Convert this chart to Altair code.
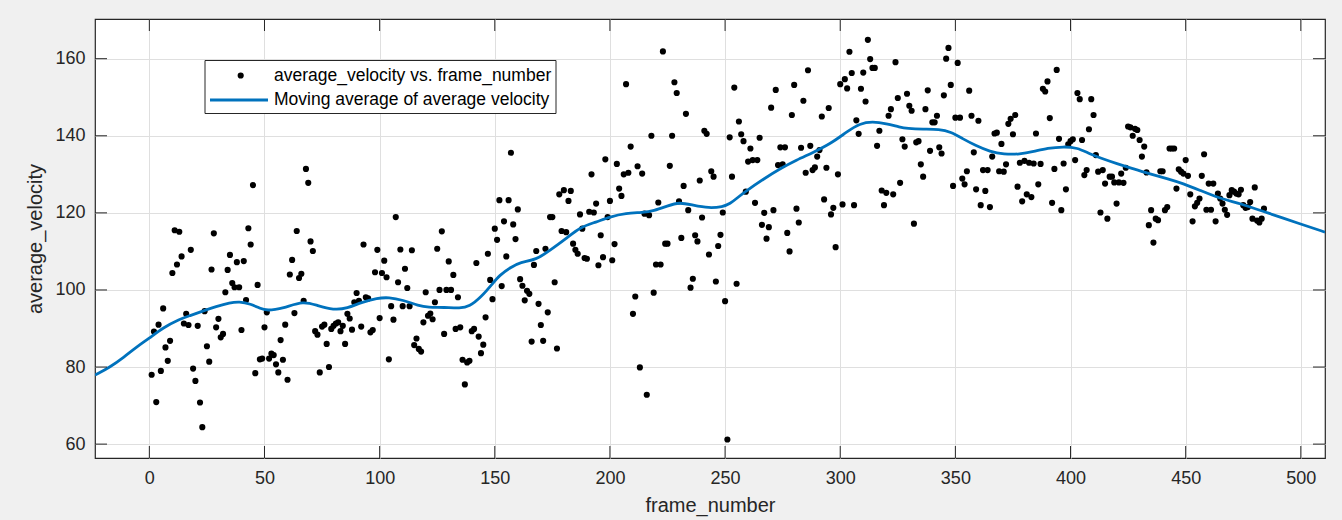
import altair as alt
import pandas as pd

# ---- scatter values (average_velocity per frame) ----
seg1 = [78.0, 89.2, 70.9, 91.0, 79.0, 95.2, 85.1, 81.6, 86.8, 104.4,
        115.5, 106.6, 115.1, 108.7, 91.3, 93.8, 90.9, 110.4, 79.6, 76.4,
        90.7, 70.8, 64.4, 94.5, 85.4, 81.4, 105.3, 114.7, 90.3, 92.5,
        87.7, 88.6, 99.4, 105.2, 109.1, 101.8, 100.7, 107.2, 100.7, 89.6,
        107.5, 97.4, 116.0, 111.8, 127.2, 78.4, 101.3, 82.0]
seg2 = [82.2, 90.3, 94.2, 82.2, 83.5, 83.1, 80.7, 78.6, 87.0, 81.9,
        91.0, 76.7, 104.0, 107.8, 94.0, 115.3, 103.1, 104.2, 97.2, 131.4,
        127.8, 112.6, 110.1, 89.3, 88.4, 78.6, 90.5, 91.0, 86.0, 80.0,
        89.9, 90.7, 91.3, 91.6, 89.3, 90.7, 86.0, 93.8, 92.6, 89.7,
        96.8, 99.2, 97.2, 90.5, 111.8, 98.1, 97.8, 89.0, 89.6, 104.6,
        110.4, 92.7, 104.4, 107.6, 103.3, 82.0, 95.8, 92.3, 118.9, 102.0,
        110.5, 95.8, 105.5, 100.5, 95.8, 110.3, 85.7, 87.4]
seg3 = [84.7, 84.0, 91.6, 99.4, 93.3, 93.9, 92.4, 96.8, 110.7, 100.0,
        115.2, 88.6, 100.0, 107.4, 100.0, 103.9, 89.9, 98.1, 90.3, 81.9,
        75.5, 81.2, 81.6, 89.3, 89.9, 107.0, 87.9, 83.6, 85.8, 92.9,
        109.4, 102.6, 97.6, 115.9, 113.0, 123.3, 101.0, 117.8, 108.7, 123.3,
        135.6, 117.0, 113.2, 120.9, 102.8, 101.1, 97.3, 99.8, 99.0, 86.6,
        106.5, 110.1, 96.4, 90.9, 86.8, 110.7, 94.2, 118.9, 118.9, 102.0,
        84.8, 124.8, 115.3, 125.9, 115.0, 123.1, 125.7, 112.0, 110.4, 109.4]
seg4 = [119.6, 115.9, 108.3, 108.1, 120.3, 130.0, 120.1, 122.4, 106.4, 114.2,
        108.5, 133.9, 118.9, 123.1, 107.7, 111.9, 132.7, 126.3, 124.4, 130.0,
        153.4, 130.4, 137.2, 93.8, 98.3, 132.1, 79.9, 130.2, 119.8, 72.8,
        119.4, 140.0, 99.3, 106.6, 122.7, 106.6, 161.9, 112.0, 112.0, 132.2,
        140.0, 153.9, 151.1, 123.0, 113.5, 127.0, 145.7, 120.7, 100.6, 102.9,
        114.2, 112.6, 128.4, 118.8, 141.3, 140.5, 109.2, 130.8, 129.4, 102.2,
        111.4, 114.3, 120.1, 97.1, 61.2, 139.6, 129.4, 152.5, 101.6]
seg5 = [143.7, 140.4, 138.6, 125.5, 133.3, 136.7, 133.7, 122.6, 133.7, 139.5,
        116.9, 120.0, 113.3, 116.3, 147.3, 120.7, 151.9, 132.4, 137.0, 132.6,
        137.0, 114.8, 110.0, 145.4, 153.2, 121.1, 117.5, 136.9, 149.1, 130.4,
        157.0, 137.4, 131.1, 131.8, 134.6, 136.3, 145.0, 123.5, 131.7, 147.2,
        119.6, 121.3, 111.1, 130.0, 153.4, 122.2, 154.7, 152.3, 161.8, 156.3,
        122.0, 144.0, 140.5, 152.2, 156.4, 148.9, 164.9, 159.9, 157.6, 157.6,
        137.4, 141.3, 125.8, 122.0, 125.2, 145.2, 146.9, 124.8, 159.1]
seg6 = [149.8, 127.8, 139.1, 137.2, 150.9, 147.8, 146.5, 117.2, 138.3, 138.6,
        132.6, 129.4, 146.9, 151.8, 136.1, 143.5, 143.5, 145.2, 137.0, 135.4,
        150.5, 160.0, 162.8, 153.2, 127.0, 144.7, 158.9, 144.7, 128.9, 127.4,
        130.8, 151.7, 145.2, 135.7, 126.1, 143.9, 122.0, 131.1, 125.7, 131.1,
        121.5, 134.6, 140.6, 140.8, 130.8, 137.9, 130.7, 132.6, 143.1, 144.4,
        140.4, 145.4, 126.8, 133.0, 123.0, 133.5, 124.8, 133.0, 124.1, 132.8,
        140.6, 127.4, 132.7, 152.2, 151.5, 154.1, 144.6, 122.6, 131.4, 157.1]
seg7 = [139.2, 120.7, 132.8, 126.1, 137.8, 138.6, 139.1, 133.7, 151.1, 149.5,
        138.9, 129.8, 131.1, 141.7, 149.5, 145.4, 135.0, 130.7, 120.1, 131.1,
        127.6, 118.5, 129.4, 129.4, 127.9, 122.4, 127.9, 130.2, 127.8, 131.7,
        142.4, 142.2, 140.0, 141.8, 141.5, 138.9, 134.6, 137.2, 130.5, 116.8,
        120.7, 112.3, 118.5, 118.1, 130.8, 130.8, 120.7, 121.5, 136.7, 136.7,
        136.7, 126.3, 131.3, 130.7, 130.2, 133.7, 129.6, 124.8, 117.8, 121.7,
        122.6, 123.7, 129.6, 135.2, 120.8, 127.6, 120.8, 127.6, 117.8]
seg8 = [125.0, 123.7, 122.4, 120.8, 119.5, 124.6, 125.9, 125.5, 125.0, 124.8,
        126.0, 122.0, 121.3, 121.5, 122.8, 118.5, 126.6, 118.0, 117.5, 118.5,
        121.1]

velocity = seg1 + seg2 + seg3 + seg4 + seg5 + seg6 + seg7 + seg8
frame_number = list(range(1, len(velocity) + 1))

# ---- moving-average curve ----
ma_frame = [-23.6, -17, -11, -5.5, 0, 6, 13, 18, 23, 29, 35, 39, 44, 48, 51, 58,
            67, 73, 80, 86, 92, 99, 104, 110, 117, 121, 128, 135, 139, 144, 149,
            152, 157, 161, 168, 174, 181, 187, 194, 200, 207, 214, 219, 225, 230,
            236, 243, 249, 252, 256, 258, 267, 274, 281, 288, 296, 303, 308.5,
            314, 320, 326, 329, 336, 343, 348, 353, 359, 365, 371, 378, 384, 390,
            397, 403, 408, 414, 420, 427, 434, 442, 449, 456, 465, 474, 485, 500,
            510.5]
ma_value = [77.9, 80.0, 82.6, 85.2, 87.5, 90.2, 92.4, 93.4, 94.5, 95.7, 96.7, 97.0,
            96.4, 95.2, 94.6, 95.2, 97.2, 95.9, 94.8, 95.2, 96.8, 97.9, 98.1, 97.4,
            95.9, 95.5, 95.5, 95.2, 95.7, 98.1, 101.6, 103.8, 105.9, 107.2, 107.8,
            110.3, 113.3, 116.3, 117.6, 119.0, 119.9, 120.1, 120.5, 121.8, 122.8,
            122.0, 121.2, 121.6, 122.3, 124.2, 125.2, 128.9, 131.5, 133.7, 135.6,
            138.0, 141.1, 143.2, 143.7, 143.2, 142.2, 141.9, 141.7, 141.7, 141.0,
            139.3, 137.4, 135.9, 135.2, 135.2, 135.9, 136.8, 137.2, 136.9, 135.4,
            134.0, 132.8, 131.5, 130.2, 128.9, 127.6, 125.9, 123.7, 122.4, 120.1,
            117.1, 115.0]

x_ticks = [0, 50, 100, 150, 200, 250, 300, 350, 400, 450, 500]
y_ticks = [60, 80, 100, 120, 140, 160]

legend_labels = ["average_velocity vs. frame_number", "Moving average of average velocity"]

W, H = 1230, 439
FONT = "Liberation Sans"
AX = "#262626"
BLUE = "#0072BD"
DOT = 38

pts = pd.DataFrame({"frame_number": frame_number, "average_velocity": velocity})
ma = pd.DataFrame({"frame_number": ma_frame, "average_velocity": ma_value})
xt = pd.DataFrame({"frame_number": x_ticks})
yt = pd.DataFrame({"average_velocity": y_ticks})
one = pd.DataFrame({"k": [0]})

xs = alt.Scale(domain=[-23.6, 510.5], nice=False, zero=False)
ys = alt.Scale(domain=[56.4, 170.3], nice=False, zero=False)

xaxis = alt.Axis(values=x_ticks, grid=True, ticks=False, domain=False,
                 labelPadding=11, title="frame_number", titlePadding=8)
yaxis = alt.Axis(values=y_ticks, grid=True, ticks=False, domain=False,
                 labelPadding=10, title="average_velocity", titlePadding=9)

points = alt.Chart(pts).mark_circle(color="black", size=DOT, opacity=1).encode(
    x=alt.X("frame_number:Q", scale=xs, axis=xaxis),
    y=alt.Y("average_velocity:Q", scale=ys, axis=yaxis),
)

line = alt.Chart(ma).mark_line(color=BLUE, strokeWidth=2.8, interpolate="basis",
                               clip=True).encode(
    x=alt.X("frame_number:Q", scale=xs),
    y=alt.Y("average_velocity:Q", scale=ys),
)

tick_b = alt.Chart(xt).mark_rule(color=AX, strokeWidth=1).encode(
    x=alt.X("frame_number:Q", scale=xs), y=alt.value(H), y2=alt.value(H - 12))
tick_t = alt.Chart(xt).mark_rule(color=AX, strokeWidth=1).encode(
    x=alt.X("frame_number:Q", scale=xs), y=alt.value(0), y2=alt.value(12))
tick_l = alt.Chart(yt).mark_rule(color=AX, strokeWidth=1).encode(
    y=alt.Y("average_velocity:Q", scale=ys), x=alt.value(0), x2=alt.value(12))
tick_r = alt.Chart(yt).mark_rule(color=AX, strokeWidth=1).encode(
    y=alt.Y("average_velocity:Q", scale=ys), x=alt.value(W), x2=alt.value(W - 12))

# ---- legend (decoration) ----
leg_box = alt.Chart(one).mark_rect(fill="white", stroke=AX, strokeWidth=1).encode(
    x=alt.value(110), x2=alt.value(461), y=alt.value(41.5), y2=alt.value(94.5))
leg_dot = alt.Chart(one).mark_circle(color="black", size=DOT, opacity=1).encode(
    x=alt.value(145.7), y=alt.value(56.5))
leg_line = alt.Chart(one).mark_rule(color=BLUE, strokeWidth=2.8).encode(
    x=alt.value(115), x2=alt.value(173), y=alt.value(81))
leg_t1 = alt.Chart(one).mark_text(align="left", baseline="middle", font=FONT,
                                  fontSize=17.5, color="black",
                                  text=legend_labels[0]).encode(
    x=alt.value(179), y=alt.value(56.5))
leg_t2 = alt.Chart(one).mark_text(align="left", baseline="middle", font=FONT,
                                  fontSize=17.5, color="black",
                                  text=legend_labels[1]).encode(
    x=alt.value(179), y=alt.value(81))

chart = alt.layer(
    points, line, tick_b, tick_t, tick_l, tick_r,
    leg_box, leg_dot, leg_line, leg_t1, leg_t2,
).properties(
    width=W, height=H,
    autosize=alt.AutoSizeParams(type="none"),
    padding={"left": 95, "top": 19, "right": 17, "bottom": 62},
    background="#f0f0f0",
).configure_view(
    stroke=AX, strokeWidth=1.2, fill="white",
).configure_axis(
    labelFont=FONT, titleFont=FONT, labelFontSize=18, titleFontSize=20,
    labelColor=AX, titleColor=AX, titleFontWeight="normal",
    gridColor="#dfdfdf", gridWidth=1, gridOpacity=1,
)

chart.save("out.html", embed_options={"renderer": "svg", "actions": False})
